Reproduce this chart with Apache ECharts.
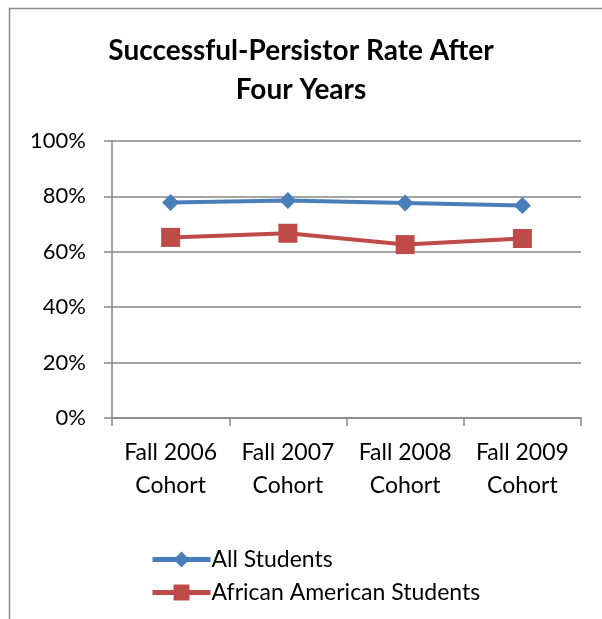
<!DOCTYPE html>
<html>
<head>
<meta charset="utf-8">
<script src="https://cdn.jsdelivr.net/npm/echarts@6/dist/echarts.min.js"></script>
<style>
html, body { margin: 0; padding: 0; background: #fff; }
#chart { width: 602px; height: 619px; }
</style>
</head>
<body>
<div id="chart"></div>
<script>
var cohorts = ['Fall 2006\nCohort', 'Fall 2007\nCohort', 'Fall 2008\nCohort', 'Fall 2009\nCohort'];
var allStudents = [77.8, 78.5, 77.6, 76.7];
var africanAmerican = [65.2, 66.7, 62.6, 64.8];

var chart = echarts.init(document.getElementById('chart'));
var font = 'Lato, "Open Sans", sans-serif';

option = {
    backgroundColor: '#fff',
    graphic: [{
        type: 'rect',
        shape: { x: 9.5, y: 8.5, width: 800, height: 800 },
        style: { fill: 'none', stroke: '#8c8c8c', lineWidth: 1.5 },
        silent: true
    }],
    title: {
        text: 'Successful-Persistor Rate After\nFour Years',
        left: 'center',
        top: 26,
        textStyle: {
            fontFamily: font,
            fontSize: 28,
            fontWeight: 'bold',
            color: '#000',
            lineHeight: 39
        }
    },
    legend: {
        orient: 'vertical',
        left: 145,
        top: 543,
        itemWidth: 58,
        itemHeight: 20,
        itemGap: 10,
        lineStyle: { width: 5 },
        textStyle: { fontFamily: font, fontSize: 23, color: '#000', padding: [0, 0, 0, -4] },
        data: ['All Students', 'African American Students']
    },
    grid: { left: 112, top: 141, right: 21, bottom: 201 },
    xAxis: {
        type: 'category',
        data: cohorts,
        boundaryGap: true,
        axisLine: { lineStyle: { color: '#868686', width: 1.5 } },
        axisTick: { show: true, interval: 0, length: 8, lineStyle: { color: '#868686', width: 1.5 } },
        axisLabel: {
            interval: 0,
            fontFamily: font,
            fontSize: 23,
            color: '#000',
            lineHeight: 33,
            margin: 18
        }
    },
    yAxis: {
        type: 'value',
        min: 0,
        max: 100,
        interval: 20,
        axisLine: { show: true, lineStyle: { color: '#868686', width: 1.5 } },
        axisTick: { show: true, length: 8, lineStyle: { color: '#868686', width: 1.5 } },
        splitLine: { lineStyle: { color: '#868686', width: 1.5 } },
        axisLabel: {
            fontFamily: font,
            fontSize: 22,
            color: '#000',
            margin: 26,
            formatter: '{value}%'
        }
    },
    series: [
        {
            name: 'All Students',
            type: 'line',
            data: allStudents,
            symbol: 'diamond',
            symbolSize: 17,
            lineStyle: { color: '#4a7ebb', width: 4 },
            itemStyle: { color: '#4a7ebb' }
        },
        {
            name: 'African American Students',
            type: 'line',
            data: africanAmerican,
            symbol: 'rect',
            symbolSize: 19,
            lineStyle: { color: '#be4b48', width: 4 },
            itemStyle: { color: '#be4b48' }
        }
    ]
};

chart.setOption(option);
</script>
</body>
</html>
